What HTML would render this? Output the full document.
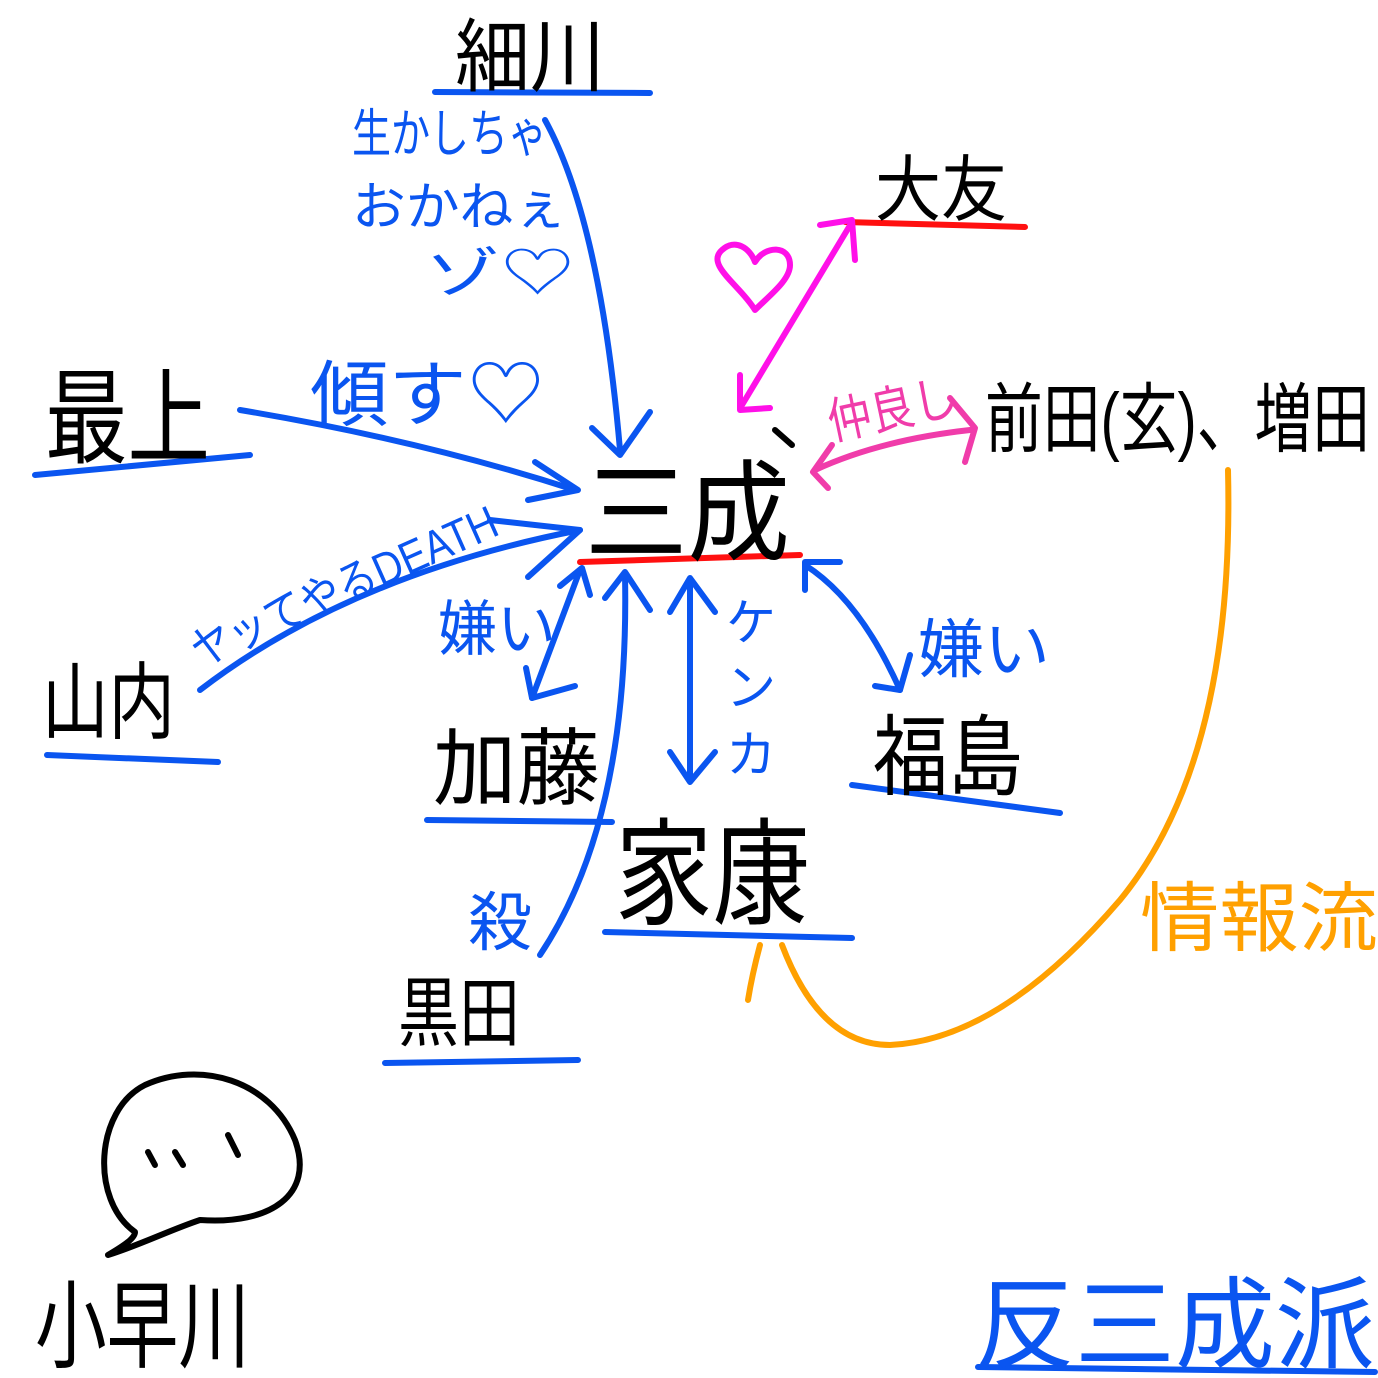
<!DOCTYPE html>
<html><head><meta charset="utf-8"><style>
html,body{margin:0;padding:0;background:#fff}
svg{display:block}
text{font-family:"Liberation Sans","Noto Sans CJK JP",sans-serif}
</style></head><body>
<svg width="1378" height="1378" viewBox="0 0 1378 1378" xmlns="http://www.w3.org/2000/svg">
<g fill="none" stroke-linecap="round" stroke-linejoin="round">
<g stroke="#0a55f0" stroke-width="6">
<path d="M435 92 L650 93"/>
<path d="M35 475 L250 455"/>
<path d="M47 755 L218 762"/>
<path d="M427 820 L612 822"/>
<path d="M605 932 L852 938"/>
<path d="M385 1063 L578 1060"/>
<path d="M852 785 L1060 813"/>
<path d="M978 1367 L1375 1372"/>
</g>
<g stroke="#ff1010" stroke-width="6">
<path d="M845 222 L1025 227"/>
<path d="M580 562 L800 555"/>
</g>
<g stroke="#0a55f0" stroke-width="6">
<path d="M545 120 Q600 220 620 450"/>
<path d="M592 428 L620 455 L650 412"/>
<path d="M240 410 Q420 440 575 490"/>
<path d="M535 462 L578 490 L528 500"/>
<path d="M200 690 Q350 575 580 530"/>
<path d="M490 520 L580 530 L528 577"/>
<path d="M580 570 L532 698"/>
<path d="M560 586 L582 568 L590 595"/>
<path d="M526 668 L532 698 L575 686"/>
<path d="M690 580 L690 780"/>
<path d="M670 612 L690 578 L715 612"/>
<path d="M670 752 L690 782 L715 752"/>
<path d="M540 955 Q630 820 625 575"/>
<path d="M605 598 L625 572 L650 610"/>
<path d="M805 565 Q860 600 900 690"/>
<path d="M805 590 L805 562 L840 562"/>
<path d="M875 686 L900 690 L910 655"/>
</g>
<g stroke="#ff10e8" stroke-width="6">
<path d="M742 405 L852 222"/>
<path d="M820 225 L852 220 L855 260"/>
<path d="M740 375 L740 410 L770 408"/>
<path d="M755 310 C740 285 705 265 722 250 C735 238 750 248 755 262 C765 245 790 245 790 265 C790 280 770 295 755 310 Z"/>
</g>
<g stroke="#f03caa" stroke-width="6">
<path d="M970 430 Q880 440 815 470"/>
<path d="M950 398 L975 428 L965 462"/>
<path d="M832 445 L813 472 L828 488"/>
</g>
<g stroke="#ffa000" stroke-width="6">
<path d="M1228 470 Q1235 760 1120 900 Q1000 1040 890 1045 Q820 1045 782 945"/>
<path d="M760 945 Q752 975 748 1000"/>
</g>
<g stroke="#000" stroke-width="6">
<path d="M135 1232 C90 1200 95 1110 145 1085 C200 1060 270 1080 295 1140 C315 1195 270 1225 200 1220 C170 1230 140 1245 108 1255 C125 1245 135 1238 135 1232 Z"/>
<path d="M148 1152 L155 1165"/>
<path d="M175 1152 L183 1165"/>
<path d="M228 1135 L238 1155"/>
<path d="M775 430 L792 445"/>
</g>
</g>
<g fill="#000" lengthAdjust="spacingAndGlyphs">
<text x="455" y="85" font-size="80" textLength="150" lengthAdjust="spacingAndGlyphs">細川</text>
<text x="875" y="215" font-size="72" textLength="132" lengthAdjust="spacingAndGlyphs">大友</text>
<text x="985" y="446" font-size="76" textLength="385" lengthAdjust="spacingAndGlyphs">前田(玄)、増田</text>
<text x="45" y="455" font-size="104" textLength="165" lengthAdjust="spacingAndGlyphs">最上</text>
<text x="585" y="552" font-size="110" textLength="205" lengthAdjust="spacingAndGlyphs">三成</text>
<text x="42" y="732" font-size="84" textLength="133" lengthAdjust="spacingAndGlyphs">山内</text>
<text x="433" y="798" font-size="84" textLength="167" lengthAdjust="spacingAndGlyphs">加藤</text>
<text x="615" y="915" font-size="116" textLength="195" lengthAdjust="spacingAndGlyphs">家康</text>
<text x="398" y="1040" font-size="76" textLength="122" lengthAdjust="spacingAndGlyphs">黒田</text>
<text x="873" y="788" font-size="88" textLength="150" lengthAdjust="spacingAndGlyphs">福島</text>
<text x="35" y="1360" font-size="96" textLength="215" lengthAdjust="spacingAndGlyphs">小早川</text>
</g>
<g fill="#0a55f0">
<text x="352" y="152" font-size="52" textLength="195" lengthAdjust="spacingAndGlyphs">生かしちゃ</text>
<text x="352" y="225" font-size="52" textLength="215" lengthAdjust="spacingAndGlyphs">おかねぇ</text>
<text x="425" y="292" font-size="54" textLength="150" lengthAdjust="spacingAndGlyphs">ゾ♡</text>
<text x="310" y="420" font-size="72" textLength="235" lengthAdjust="spacingAndGlyphs">傾す♡</text>
<text x="0" y="0" font-size="46" transform="translate(200 668) rotate(-24)" textLength="330" lengthAdjust="spacingAndGlyphs">ヤッてやるDEATH</text>
<text x="438" y="650" font-size="60" textLength="118" lengthAdjust="spacingAndGlyphs">嫌い</text>
<text x="918" y="672" font-size="64" textLength="132" lengthAdjust="spacingAndGlyphs">嫌い</text>
<text x="468" y="945" font-size="64">殺</text>
<text x="726" y="640" font-size="50">ケ</text>
<text x="726" y="705" font-size="50">ン</text>
<text x="726" y="772" font-size="50">カ</text>
<text x="975" y="1360" font-size="100" textLength="400" lengthAdjust="spacingAndGlyphs">反三成派</text>
</g>
<text x="0" y="0" font-size="50" fill="#f03caa" transform="translate(832 440) rotate(-12)" textLength="130" lengthAdjust="spacingAndGlyphs">仲良し</text>
<text x="1140" y="945" font-size="76" fill="#ffa000" textLength="238" lengthAdjust="spacingAndGlyphs">情報流</text>
</svg>
</body></html>
